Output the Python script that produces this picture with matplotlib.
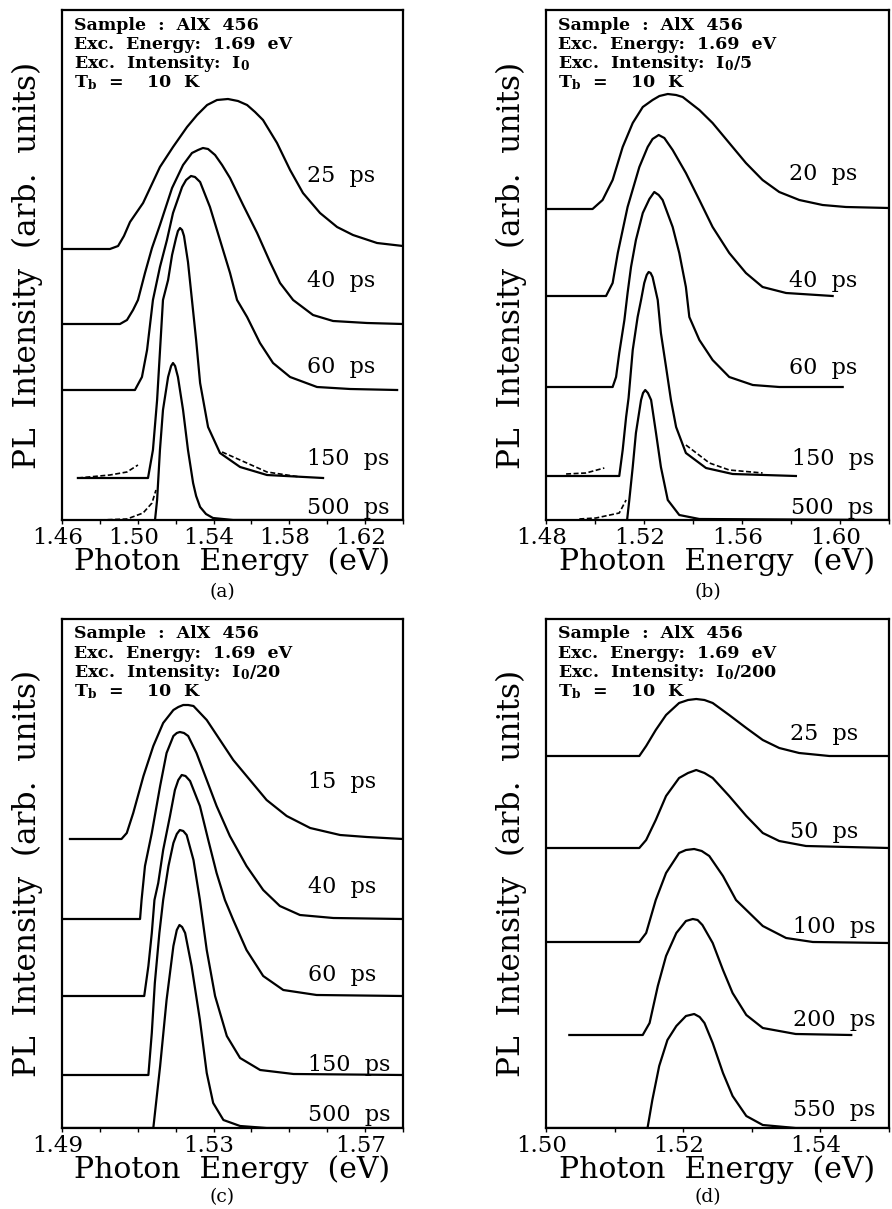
import matplotlib
matplotlib.use("Agg")
import matplotlib.pyplot as plt
from matplotlib.ticker import FixedLocator, FormatStrFormatter
from matplotlib.transforms import ScaledTranslation

plt.rcParams['font.family'] = ['DejaVu Serif']
plt.rcParams['mathtext.fontset'] = 'dejavuserif'

# ---------------- Panel (a): excitation I0 ----------------
a25_E = [1.4600, 1.4853, 1.4896, 1.4927, 1.4959, 1.5028, 1.5117, 1.5186, 1.5260, 1.5313, 1.5366,
         1.5418, 1.5476, 1.5529, 1.5577, 1.5619, 1.5661, 1.5735, 1.5804, 1.5872, 1.5962, 1.6052,
         1.6136, 1.6263, 1.6400]
a25_I = [271, 271, 274, 284, 298, 317, 353, 373, 393, 405, 415, 420, 421, 419, 415, 408, 400, 377,
         350, 327, 307, 293, 285, 277, 274]
a40_E = [1.4600, 1.4906, 1.4943, 1.4975, 1.5001, 1.5038, 1.5075, 1.5117, 1.5181, 1.5239, 1.5286,
         1.5318, 1.5344, 1.5371, 1.5408, 1.5445, 1.5487, 1.5556, 1.5630, 1.5698, 1.5751, 1.5820,
         1.5925, 1.6031, 1.6210, 1.6400]
a40_I = [196, 196, 200, 210, 220, 247, 272, 295, 332, 355, 367, 370, 372, 371, 365, 355, 342, 315,
         287, 258, 237, 220, 205, 199, 197, 196]
a60_E = [1.4600, 1.4985, 1.5022, 1.5049, 1.5080, 1.5117, 1.5154, 1.5186, 1.5234, 1.5255, 1.5281,
         1.5302, 1.5329, 1.5381, 1.5434, 1.5487, 1.5524, 1.5577, 1.5645, 1.5714, 1.5804, 1.5946,
         1.6121, 1.6369]
a60_I = [130, 130, 143, 170, 220, 253, 280, 307, 333, 340, 344, 343, 338, 313, 280, 247, 220, 203,
         177, 157, 143, 133, 131, 130]
a150_E = [1.4684, 1.5054, 1.5080, 1.5102, 1.5133, 1.5160, 1.5181, 1.5202, 1.5212, 1.5223, 1.5234,
          1.5244, 1.5265, 1.5286, 1.5308, 1.5329, 1.5371, 1.5434, 1.5540, 1.5682, 1.5978]
a150_I = [42, 42, 70, 120, 220, 240, 265, 282, 289, 292, 290, 284, 258, 220, 180, 137, 93, 67, 53,
          45, 42]
a150_dL_E = [1.4684, 1.4853, 1.4943, 1.5001]
a150_dL_I = [42, 45, 48, 55]
a150_dR_E = [1.5445, 1.5540, 1.5682, 1.5857]
a150_dR_I = [68, 60, 48, 43]
a500_E = [1.5091, 1.5102, 1.5117, 1.5133, 1.5160, 1.5176, 1.5186, 1.5197, 1.5212, 1.5239, 1.5265,
          1.5292, 1.5308, 1.5329, 1.5360, 1.5397, 1.5503, 1.6400]
a500_I = [0, 20, 70, 110, 143, 154, 157, 154, 143, 110, 70, 37, 24, 13, 6, 2, 0, 0]
a500_d_E = [1.4801, 1.4943, 1.5028, 1.5075, 1.5096]
a500_d_I = [0, 1, 7, 17, 30]
a_labels = ["25  ps", "40  ps", "60  ps", "150  ps", "500  ps"]
a_label_I = [338, 233, 147, 55, 6]
a_ticks = [1.46, 1.50, 1.54, 1.58, 1.62]
a_minor = [1.48, 1.52, 1.56, 1.60, 1.64]

# ---------------- Panel (b): excitation I0/5 ----------------
b20_E = [1.4800, 1.4990, 1.5031, 1.5072, 1.5113, 1.5154, 1.5195, 1.5235, 1.5263, 1.5297, 1.5331,
         1.5358, 1.5426, 1.5480, 1.5548, 1.5616, 1.5684, 1.5752, 1.5834, 1.5929, 1.6024, 1.6200]
b20_I = [311, 311, 320, 340, 373, 397, 413, 420, 424, 426, 425, 423, 410, 397, 377, 357, 340, 328,
         320, 315, 313, 312]
b40_E = [1.4800, 1.5045, 1.5072, 1.5093, 1.5133, 1.5181, 1.5215, 1.5235, 1.5260, 1.5283, 1.5317,
         1.5371, 1.5426, 1.5480, 1.5548, 1.5616, 1.5684, 1.5780, 1.5970]
b40_I = [224, 224, 237, 267, 313, 353, 373, 381, 385, 382, 370, 347, 320, 293, 267, 247, 233, 227, 224]
b60_E = [1.4800, 1.5072, 1.5086, 1.5099, 1.5120, 1.5133, 1.5147, 1.5167, 1.5195, 1.5222, 1.5242,
         1.5260, 1.5276, 1.5317, 1.5344, 1.5371, 1.5385, 1.5426, 1.5480, 1.5548, 1.5644, 1.5752,
         1.6011]
b60_I = [133, 133, 143, 167, 200, 227, 253, 280, 307, 321, 328, 325, 320, 293, 267, 233, 203, 180,
         160, 143, 135, 133, 133]
b150_E = [1.4800, 1.5099, 1.5113, 1.5127, 1.5137, 1.5154, 1.5174, 1.5188, 1.5201, 1.5211, 1.5219,
          1.5227, 1.5235, 1.5256, 1.5269, 1.5290, 1.5310, 1.5331, 1.5371, 1.5453, 1.5562, 1.5820]
b150_I = [44, 44, 70, 103, 122, 170, 203, 220, 237, 245, 248, 247, 243, 220, 187, 153, 120, 93, 67,
          52, 46, 44]
b150_dL_E = [1.4882, 1.4963, 1.5038]
b150_dL_I = [46, 47, 52]
b150_dR_E = [1.5371, 1.5467, 1.5548, 1.5684]
b150_dR_I = [75, 57, 50, 47]
b500_E = [1.5131, 1.5140, 1.5154, 1.5167, 1.5188, 1.5196, 1.5205, 1.5216, 1.5229, 1.5249, 1.5269,
          1.5297, 1.5344, 1.5426, 1.6200]
b500_I = [0, 20, 53, 87, 120, 127, 130, 127, 120, 87, 53, 20, 5, 1, 0]
b500_d_E = [1.4936, 1.5004, 1.5099, 1.5127]
b500_d_I = [1, 2, 7, 20]
b_labels = ["20  ps", "40  ps", "60  ps", "150  ps", "500  ps"]
b_label_I = [340, 233, 146, 55, 6]
b_ticks = [1.48, 1.52, 1.56, 1.60]
b_minor = [1.50, 1.54, 1.58, 1.62]

# ---------------- Panel (c): excitation I0/20 ----------------
c15_E = [1.4921, 1.5057, 1.5071, 1.5088, 1.5115, 1.5141, 1.5167, 1.5194, 1.5207, 1.5220, 1.5233,
         1.5247, 1.5282, 1.5317, 1.5352, 1.5396, 1.5440, 1.5493, 1.5555, 1.5634, 1.5704, 1.5800]
c15_I = [289, 289, 295, 315, 352, 382, 405, 418, 421, 423, 423, 422, 408, 388, 368, 348, 328, 312,
         300, 293, 291, 289]
c40_E = [1.4900, 1.5106, 1.5110, 1.5119, 1.5137, 1.5159, 1.5176, 1.5194, 1.5203, 1.5211, 1.5222,
         1.5233, 1.5255, 1.5282, 1.5308, 1.5343, 1.5387, 1.5431, 1.5475, 1.5528, 1.5616, 1.5800]
c40_I = [209, 209, 228, 262, 295, 342, 375, 392, 395, 396, 395, 392, 375, 348, 322, 292, 262, 238,
         222, 213, 210, 209]
c60_E = [1.4900, 1.5117, 1.5128, 1.5137, 1.5144, 1.5154, 1.5167, 1.5185, 1.5198, 1.5207, 1.5216,
         1.5226, 1.5238, 1.5264, 1.5286, 1.5308, 1.5330, 1.5352, 1.5387, 1.5431, 1.5484, 1.5572,
         1.5800]
c60_I = [132, 132, 162, 195, 228, 245, 278, 312, 338, 348, 353, 352, 347, 322, 288, 255, 228, 208,
         178, 152, 138, 133, 132]
c150_E = [1.4900, 1.5128, 1.5137, 1.5145, 1.5157, 1.5167, 1.5181, 1.5194, 1.5203, 1.5211, 1.5220,
          1.5229, 1.5247, 1.5264, 1.5282, 1.5304, 1.5335, 1.5370, 1.5423, 1.5511, 1.5800]
c150_I = [53, 53, 95, 145, 195, 228, 262, 285, 294, 298, 297, 293, 268, 228, 178, 132, 92, 70, 58,
          54, 53]
c500_E = [1.4900, 1.5141, 1.5159, 1.5176, 1.5194, 1.5203, 1.5210, 1.5217, 1.5225, 1.5242, 1.5264,
          1.5282, 1.5299, 1.5326, 1.5370, 1.5440, 1.5800]
c500_I = [0, 0, 62, 128, 182, 198, 203, 201, 195, 162, 108, 55, 25, 8, 2, 0, 0]
c_labels = ["15  ps", "40  ps", "60  ps", "150  ps", "500  ps"]
c_label_I = [340, 235, 147, 57, 7]
c_ticks = [1.49, 1.53, 1.57]
c_minor = [1.50, 1.51, 1.52, 1.54, 1.55, 1.56, 1.58]

# ---------------- Panel (d): excitation I0/200 ----------------
d25_E = [1.5000, 1.5136, 1.5146, 1.5160, 1.5175, 1.5194, 1.5207, 1.5219, 1.5231, 1.5243, 1.5267,
         1.5292, 1.5316, 1.5340, 1.5369, 1.5413, 1.5500]
d25_I = [372, 372, 382, 398, 413, 425, 428, 429, 428, 425, 413, 400, 388, 380, 375, 372, 372]
d50_E = [1.5000, 1.5136, 1.5146, 1.5160, 1.5175, 1.5194, 1.5207, 1.5219, 1.5231, 1.5243, 1.5267,
         1.5292, 1.5316, 1.5340, 1.5379, 1.5500]
d50_I = [280, 280, 288, 308, 332, 350, 355, 358, 355, 350, 332, 312, 295, 287, 282, 280]
d100_E = [1.5000, 1.5136, 1.5146, 1.5160, 1.5175, 1.5194, 1.5204, 1.5216, 1.5227, 1.5238, 1.5258,
          1.5277, 1.5292, 1.5316, 1.5350, 1.5389, 1.5500]
d100_I = [186, 186, 195, 228, 255, 275, 278, 279, 277, 272, 252, 228, 218, 202, 190, 186, 185]
d200_E = [1.5034, 1.5141, 1.5151, 1.5163, 1.5175, 1.5190, 1.5204, 1.5214, 1.5221, 1.5228, 1.5243,
          1.5258, 1.5272, 1.5292, 1.5316, 1.5364, 1.5445]
d200_I = [93, 93, 105, 142, 172, 195, 207, 209, 208, 203, 185, 158, 135, 113, 100, 94, 93]
d550_E = [1.5000, 1.5148, 1.5155, 1.5165, 1.5177, 1.5190, 1.5204, 1.5216, 1.5224, 1.5231, 1.5243,
          1.5258, 1.5272, 1.5292, 1.5316, 1.5364, 1.5500]
d550_I = [0, 0, 28, 62, 88, 102, 112, 114, 111, 105, 85, 55, 32, 12, 3, 0, 0]
d_labels = ["25  ps", "50  ps", "100  ps", "200  ps", "550  ps"]
d_label_I = [388, 290, 195, 102, 12]
d_ticks = [1.50, 1.52, 1.54]
d_minor = [1.51, 1.53, 1.55]

info_lines = ["Sample  :  AlX  456", "Exc.  Energy:  1.69  eV"]
intensities = [r"I$_\mathbf{0}$", r"I$_\mathbf{0}$/5", r"I$_\mathbf{0}$/20", r"I$_\mathbf{0}$/200"]
temp_line = r"T$_\mathbf{b}$  =    10  K"
panel_tags = ["(a)", "(b)", "(c)", "(d)"]

panels = [
    dict(fits=[(a25_E, a25_I), (a40_E, a40_I), (a60_E, a60_I), (a150_E, a150_I), (a500_E, a500_I)],
         data=[(a150_dL_E, a150_dL_I), (a150_dR_E, a150_dR_I), (a500_d_E, a500_d_I)],
         labels=a_labels, label_I=a_label_I, label_E=[1.5895] * 5,
         xlim=(1.46, 1.64), ylim=(0, 510), ticks=a_ticks, minor=a_minor,
         rect=(62, 403, 10, 520), tag_dy=72),
    dict(fits=[(b20_E, b20_I), (b40_E, b40_I), (b60_E, b60_I), (b150_E, b150_I), (b500_E, b500_I)],
         data=[(b150_dL_E, b150_dL_I), (b150_dR_E, b150_dR_I), (b500_d_E, b500_d_I)],
         labels=b_labels, label_I=b_label_I, label_E=[1.5793, 1.5793, 1.5793, 1.5805, 1.5800],
         xlim=(1.48, 1.62), ylim=(0, 510), ticks=b_ticks, minor=b_minor,
         rect=(546, 889, 10, 520), tag_dy=72),
    dict(fits=[(c15_E, c15_I), (c40_E, c40_I), (c60_E, c60_I), (c150_E, c150_I), (c500_E, c500_I)],
         data=[],
         labels=c_labels, label_I=c_label_I, label_E=[1.5550] * 5,
         xlim=(1.49, 1.58), ylim=(0, 509), ticks=c_ticks, minor=c_minor,
         rect=(62, 403, 619, 1128), tag_dy=69),
    dict(fits=[(d25_E, d25_I), (d50_E, d50_I), (d100_E, d100_I), (d200_E, d200_I), (d550_E, d550_I)],
         data=[],
         labels=d_labels, label_I=d_label_I, label_E=[1.5355, 1.5355, 1.5360, 1.5360, 1.5360],
         xlim=(1.50, 1.55), ylim=(0, 509), ticks=d_ticks, minor=d_minor,
         rect=(546, 889, 619, 1128), tag_dy=69),
]

W, H = 892, 1209
fig = plt.figure(figsize=(W / 100, H / 100), dpi=100)
shift_left = ScaledTranslation(-0.045, 0, fig.dpi_scale_trans)

for k, p in enumerate(panels):
    l, r, t, b = p['rect']
    ax = fig.add_axes([l / W, 1 - b / H, (r - l) / W, (b - t) / H])
    for E, I in p['fits']:
        ax.plot(E, I, color='black', lw=1.6, solid_joinstyle='round')
    for E, I in p['data']:
        ax.plot(E, I, color='black', lw=1.2, ls=(0, (3, 1.5)))
    for txt, e, i in zip(p['labels'], p['label_E'], p['label_I']):
        ax.text(e, i, txt, fontsize=16, ha='left', va='baseline', color='black')
    ax.set_xlim(*p['xlim'])
    ax.set_ylim(*p['ylim'])
    ax.xaxis.set_major_locator(FixedLocator(p['ticks']))
    ax.xaxis.set_minor_locator(FixedLocator(p['minor']))
    ax.xaxis.set_major_formatter(FormatStrFormatter('%.2f'))
    ax.set_yticks([])
    ax.tick_params(axis='x', which='both', direction='out', length=3, width=1.0, pad=2,
                   labelsize=16.5)
    for tick in ax.xaxis.get_major_ticks():
        tick.label1.set_transform(tick.label1.get_transform() + shift_left)
    for s in ax.spines.values():
        s.set_linewidth(1.6)
    ax.set_xlabel("Photon  Energy  (eV)", fontsize=21.5, labelpad=-1)
    ax.set_ylabel("PL  Intensity  (arb.  units)", fontsize=22.5)
    ax.yaxis.set_label_coords(-19 / (r - l), 0.5)
    # info block
    lines = info_lines + ["Exc.  Intensity:  " + intensities[k], temp_line]
    x0 = (l + 12) / W
    for j, ln in enumerate(lines):
        fig.text(x0, 1 - (t + 19.5 + 19.2 * j) / H, ln, fontsize=12.5, fontweight='bold',
                 ha='left', va='baseline')
    fig.text((l + r) / 2 / W - 10 / W, 1 - (b + p['tag_dy']) / H, panel_tags[k], fontsize=13.5,
             ha='center', va='center')

fig.savefig("out.png", dpi=100)
